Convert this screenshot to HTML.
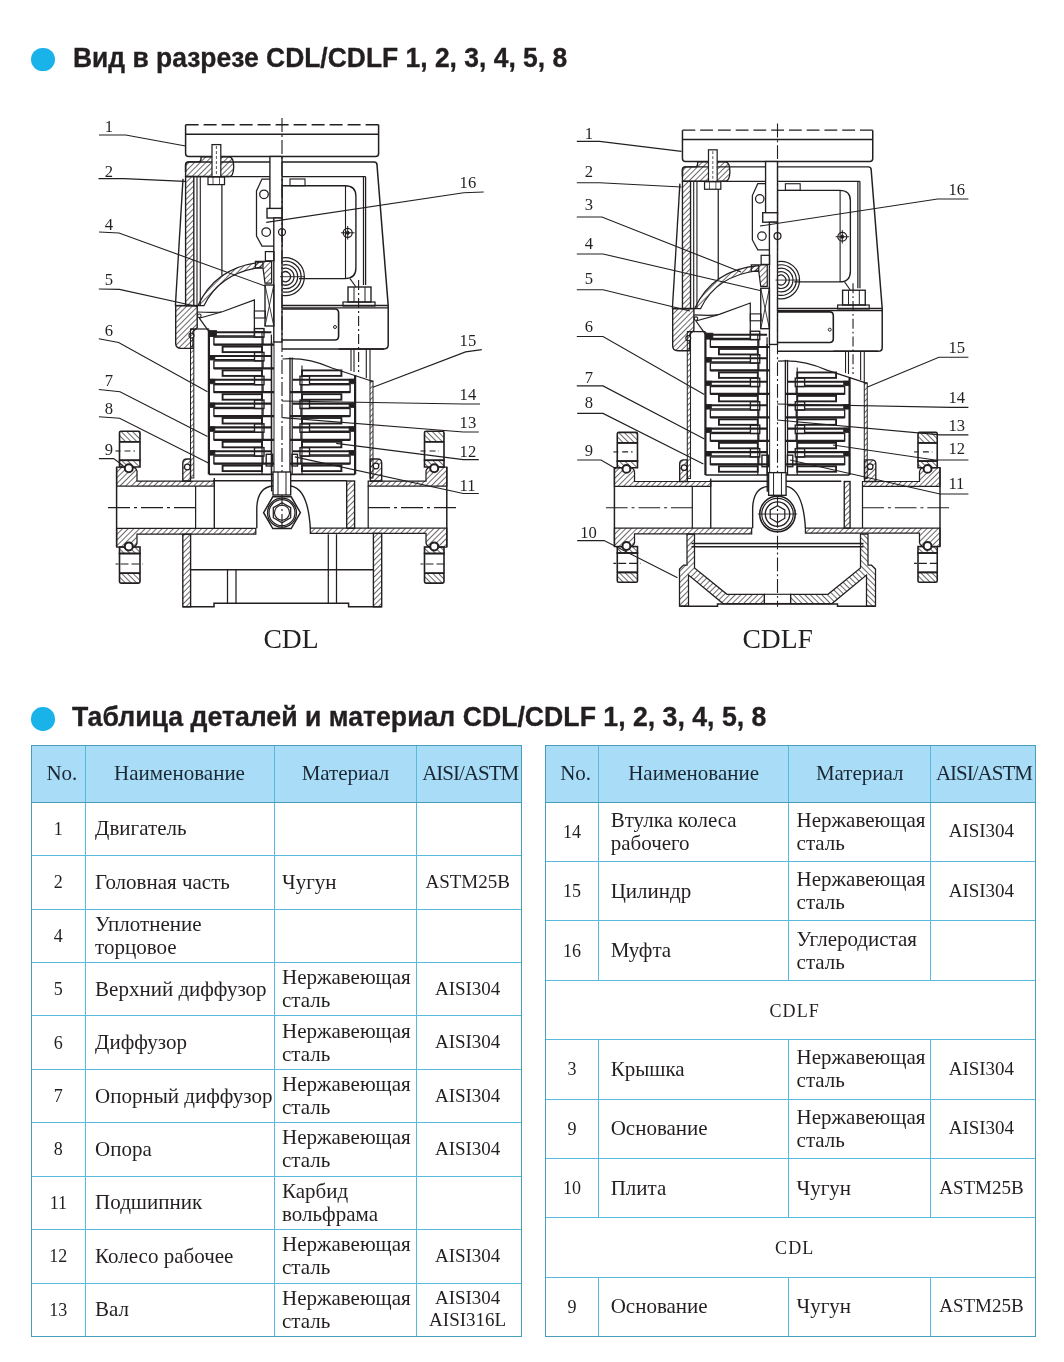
<!DOCTYPE html><html><head><meta charset="utf-8"><style>
html,body{margin:0;padding:0;background:#fff;width:1064px;height:1362px;overflow:hidden;position:relative}
.abs{position:absolute}
.t{position:absolute;display:flex;align-items:center;box-sizing:border-box;font-family:"Liberation Serif",serif;color:#231f20;white-space:nowrap}
.h{color:#1b2733}
.title{position:absolute;font-family:"Liberation Sans",sans-serif;font-weight:bold;color:#231f20;font-size:28px;white-space:nowrap;transform-origin:0 0;transform:scaleX(0.944);-webkit-text-stroke:0.35px #231f20}
.dot{position:absolute;width:23.5px;height:23.5px;border-radius:50%;background:#19b3ea}
</style></head><body>
<div id="wrap" style="position:absolute;left:0;top:0;width:1064px;height:1362px;will-change:transform">
<div class="dot" style="left:31.3px;top:47.8px"></div>
<div class="title" id="t1" style="left:73px;top:41.5px">Вид в разрезе CDL/CDLF 1, 2, 3, 4, 5, 8</div>
<div class="dot" style="left:31.3px;top:707px"></div>
<div class="title" id="t2" style="left:72px;top:700.5px;transform:scaleX(0.952)">Таблица деталей и материал CDL/CDLF 1, 2, 3, 4, 5, 8</div>
<svg class="abs" style="left:0;top:0" width="1064" height="670" viewBox="0 0 1064 670">
<defs><pattern id="hatch" patternUnits="userSpaceOnUse" width="4" height="4" patternTransform="rotate(45)"><line x1="0" y1="0" x2="0" y2="4" stroke="#231f20" stroke-width="1.35"/></pattern><pattern id="hatch2" patternUnits="userSpaceOnUse" width="4" height="4" patternTransform="rotate(-45)"><line x1="0" y1="0" x2="0" y2="4" stroke="#231f20" stroke-width="1.35"/></pattern></defs>
<g stroke="#231f20" fill="none" stroke-linecap="butt" font-family="Liberation Serif, serif">
<line x1="185.6" y1="124.7" x2="380.8" y2="124.7" stroke-width="1.38" stroke-dasharray="13 5"/>
<path d="M185.6,124.7 V153.5 Q185.6,156.5 188.6,156.5 H375.6 Q378.6,156.5 378.6,153.5 V124.7" stroke-width="1.5" fill="none"/>
<line x1="185.6" y1="134.2" x2="378.6" y2="134.2" stroke-width="1.5"/>
<path d="M185.6,171.9 V164.9 Q185.6,161.9 188.6,161.9 H374.0 Q377.0,161.9 377.0,164.9 L388.2,305.6 V345.1 Q388.2,349.0 384.0,349.0 H338.6" stroke-width="1.5" fill="none"/>
<line x1="183.0" y1="178.9" x2="175.4" y2="305.6" stroke-width="1.38"/>
<line x1="175.4" y1="305.6" x2="198.0" y2="305.6" stroke-width="1.5"/>
<line x1="282.0" y1="305.6" x2="388.2" y2="305.6" stroke-width="1.5"/>
<line x1="282.0" y1="307.8" x2="388.2" y2="307.8" stroke-width="1.25"/>
<rect x="185.6" y="176.6" width="8.2" height="129.0" stroke-width="1.38" fill="url(#hatch)"/>
<path d="M185.6,176.5 V164.9 Q185.6,161.9 188.6,161.9 H198.0 Q201.0,161.9 201.0,158.9 V156.7 H229.0 Q234.0,157.4 233.7,166.9 Q233.5,176.5 229.0,176.5 Z" stroke-width="1.38" fill="url(#hatch)"/>
<rect x="212.0" y="144.6" width="8.8" height="37.4" stroke-width="1.25" fill="#fff"/>
<line x1="216.4" y1="146.0" x2="216.4" y2="182.0" stroke-width="0.75" stroke-dasharray="3 2"/>
<rect x="208.0" y="177.0" width="16.5" height="7.6" stroke-width="1.25" fill="#fff"/>
<line x1="213.0" y1="177.0" x2="213.0" y2="184.6" stroke-width="0.75"/>
<line x1="219.5" y1="177.0" x2="219.5" y2="184.6" stroke-width="0.75"/>
<line x1="193.8" y1="176.6" x2="365.6" y2="176.6" stroke-width="1.38"/>
<line x1="363.5" y1="176.6" x2="363.5" y2="285.0" stroke-width="1.25"/>
<line x1="365.6" y1="176.6" x2="365.6" y2="285.0" stroke-width="1.25"/>
<line x1="197.0" y1="176.6" x2="197.0" y2="305.6" stroke-width="1.12"/>
<line x1="200.3" y1="176.6" x2="200.3" y2="305.6" stroke-width="1.12"/>
<line x1="221.9" y1="184.6" x2="221.9" y2="275.5" stroke-width="1.25"/>
<path d="M175.7,305.6 V343.6 Q175.7,348.4 181.0,348.4 H193.0 V331.6 L197.2,327.6 V305.6 Z" stroke-width="1.38" fill="url(#hatch)"/>
<circle cx="191.5" cy="335.6" r="2.5" stroke-width="1.12" fill="#fff"/>
<polygon points="262.0,179.0 282.0,179.0 282.0,246.0 262.0,246.0 256.5,236.0 256.5,191.0" stroke-width="1.25" fill="#fff"/>
<circle cx="264.0" cy="194.3" r="4.3" stroke-width="1.25" fill="none"/>
<circle cx="266.2" cy="232.1" r="4.3" stroke-width="1.25" fill="none"/>
<rect x="269.9" y="156.5" width="12.1" height="52.9" stroke-width="1.38" fill="#fff"/>
<rect x="267.0" y="208.4" width="15.0" height="9.6" stroke-width="1.38" fill="#fff"/>
<rect x="273.8" y="218.0" width="8.2" height="124.0" stroke-width="1.38" fill="#fff"/>
<circle cx="282.0" cy="232.1" r="3.5" stroke-width="1.25" fill="none"/>
<path d="M282.4,185.7 H345.0 Q355.9,185.7 355.9,196.0 V268.0 Q355.9,278.6 345.0,278.6 H299.0" stroke-width="1.38" fill="none"/>
<line x1="345.5" y1="185.7" x2="345.5" y2="278.6" stroke-width="1.12"/>
<rect x="290.0" y="179.0" width="15.0" height="6.7" stroke-width="1.12" fill="none"/>
<circle cx="347.7" cy="232.8" r="4.5" stroke-width="1.25" fill="none"/>
<line x1="341.0" y1="232.8" x2="354.5" y2="232.8" stroke-width="1.0"/>
<line x1="347.7" y1="226.0" x2="347.7" y2="239.6" stroke-width="1.0"/>
<circle cx="347.7" cy="232.8" r="1.6" stroke-width="1.0" fill="#231f20"/>
<line x1="350.0" y1="278.6" x2="356.0" y2="287.0" stroke-width="1.12"/>
<path d="M282.6,257.9 A19,19 0 1 1 282.6,295.5" stroke-width="1.25" fill="none"/>
<path d="M282.6,261.5 A15.5,15.5 0 1 1 282.6,291.9" stroke-width="1.25" fill="none"/>
<path d="M282.6,265.1 A12,12 0 1 1 282.6,288.3" stroke-width="1.25" fill="none"/>
<path d="M282.6,268.7 A8.5,8.5 0 1 1 282.6,284.7" stroke-width="1.25" fill="none"/>
<path d="M282.6,272.6 A5,5 0 1 1 282.6,280.8" stroke-width="1.25" fill="none"/>
<line x1="280.0" y1="276.7" x2="304.0" y2="276.7" stroke-width="0.88"/>
<rect x="348.0" y="287.0" width="23.0" height="15.0" stroke-width="1.38" fill="none"/>
<line x1="354.0" y1="287.0" x2="354.0" y2="302.0" stroke-width="1.0"/>
<line x1="365.0" y1="287.0" x2="365.0" y2="302.0" stroke-width="1.0"/>
<rect x="343.0" y="302.0" width="32.0" height="4.0" stroke-width="1.25" fill="none"/>
<line x1="282.0" y1="118.0" x2="282.0" y2="531.0" stroke-width="1.12" stroke-dasharray="14 3 2 3"/>
<line x1="358.6" y1="280.0" x2="358.6" y2="372.0" stroke-width="1.12" stroke-dasharray="10 3 2 3"/>
<path d="M282.4,309.0 H335.0 Q338.6,309.0 338.6,313.0 V336.0 Q338.6,340.0 335.0,340.0 H282.4" stroke-width="1.62" fill="none"/>
<circle cx="335.0" cy="327.0" r="1.5" stroke-width="1.0" fill="none"/>
<line x1="282.0" y1="349.0" x2="384.0" y2="349.0" stroke-width="1.5"/>
<path d="M198.0,305.6 Q216.0,266.0 263.0,262.0 L263.0,267.0 Q220.0,272.0 204.0,305.6 Z" stroke-width="1.25" fill="url(#hatch)"/>
<path d="M255.4,261.3 H271.6 V283.0 H265.0 L263.0,268.0 H255.4 Z" stroke-width="1.25" fill="url(#hatch)"/>
<rect x="265.0" y="285.0" width="8.8" height="41.0" stroke-width="1.38" fill="none"/>
<line x1="265.0" y1="285.0" x2="273.8" y2="326.0" stroke-width="0.88"/>
<line x1="273.8" y1="285.0" x2="265.0" y2="326.0" stroke-width="0.88"/>
<path d="M197.5,312.0 Q217.0,313.0 223.0,311.5 L254.4,300.0 V336.6" stroke-width="1.25" fill="none"/>
<line x1="199.2" y1="318.2" x2="221.4" y2="312.0" stroke-width="1.12"/>
<circle cx="199.3" cy="315.8" r="1.8" stroke-width="1.12" fill="none"/>
<line x1="199.3" y1="318.2" x2="209.0" y2="331.7" stroke-width="1.25"/>
<rect x="209.0" y="330.5" width="7.5" height="6.1" stroke-width="0.75" fill="#231f20"/>
<rect x="254.4" y="311.0" width="11.0" height="7.0" stroke-width="1.12" fill="none"/>
<line x1="254.4" y1="331.7" x2="265.4" y2="331.7" stroke-width="1.12"/>
<rect x="265.4" y="251.6" width="8.6" height="9.2" stroke-width="1.25" fill="none"/>
<rect x="190.5" y="329.0" width="3.3" height="149.0" stroke-width="1.0" fill="url(#hatch)"/>
<line x1="190.5" y1="329.0" x2="209.0" y2="329.0" stroke-width="1.25"/>
<rect x="370.0" y="381.0" width="3.0" height="97.0" stroke-width="1.0" fill="url(#hatch)"/>
<path d="M282.4,359.0 Q307.0,357.0 332.0,368.0 L373.0,381.5" stroke-width="1.25" fill="none"/>
<line x1="351.0" y1="349.0" x2="351.0" y2="371.0" stroke-width="1.12"/>
<line x1="354.0" y1="349.0" x2="354.0" y2="372.0" stroke-width="1.12"/>
<line x1="366.3" y1="349.0" x2="366.3" y2="378.0" stroke-width="1.12"/>
<line x1="370.0" y1="349.0" x2="370.0" y2="381.0" stroke-width="1.12"/>
<rect x="208.9" y="331.6" width="6.0" height="4.6" stroke-width="0.75" fill="#231f20"/>
<line x1="208.9" y1="332.2" x2="271.4" y2="332.2" stroke-width="2.12"/>
<line x1="214.9" y1="336.0" x2="255.0" y2="336.0" stroke-width="1.38"/>
<rect x="254.5" y="328.6" width="9.5" height="8.5" stroke-width="1.38" fill="none"/>
<rect x="213.9" y="337.1" width="49.1" height="7.5" stroke-width="1.38" fill="none"/>
<line x1="213.9" y1="344.6" x2="274.0" y2="344.6" stroke-width="2.25"/>
<rect x="222.6" y="346.6" width="39.4" height="5.5" stroke-width="1.88" fill="none"/>
<rect x="208.9" y="355.4" width="6.0" height="4.6" stroke-width="0.75" fill="#231f20"/>
<line x1="208.9" y1="356.0" x2="271.4" y2="356.0" stroke-width="2.12"/>
<line x1="214.9" y1="359.8" x2="255.0" y2="359.8" stroke-width="1.38"/>
<rect x="254.5" y="352.4" width="9.5" height="8.5" stroke-width="1.38" fill="none"/>
<rect x="213.9" y="360.9" width="49.1" height="7.5" stroke-width="1.38" fill="none"/>
<line x1="213.9" y1="368.4" x2="274.0" y2="368.4" stroke-width="2.25"/>
<rect x="222.6" y="370.4" width="39.4" height="5.5" stroke-width="1.88" fill="none"/>
<rect x="208.9" y="379.2" width="6.0" height="4.6" stroke-width="0.75" fill="#231f20"/>
<line x1="208.9" y1="379.8" x2="271.4" y2="379.8" stroke-width="2.12"/>
<line x1="214.9" y1="383.6" x2="255.0" y2="383.6" stroke-width="1.38"/>
<rect x="254.5" y="376.2" width="9.5" height="8.5" stroke-width="1.38" fill="none"/>
<rect x="213.9" y="384.7" width="49.1" height="7.5" stroke-width="1.38" fill="none"/>
<line x1="213.9" y1="392.2" x2="274.0" y2="392.2" stroke-width="2.25"/>
<rect x="222.6" y="394.2" width="39.4" height="5.5" stroke-width="1.88" fill="none"/>
<rect x="208.9" y="403.0" width="6.0" height="4.6" stroke-width="0.75" fill="#231f20"/>
<line x1="208.9" y1="403.6" x2="271.4" y2="403.6" stroke-width="2.12"/>
<line x1="214.9" y1="407.4" x2="255.0" y2="407.4" stroke-width="1.38"/>
<rect x="254.5" y="400.0" width="9.5" height="8.5" stroke-width="1.38" fill="none"/>
<rect x="213.9" y="408.5" width="49.1" height="7.5" stroke-width="1.38" fill="none"/>
<line x1="213.9" y1="416.0" x2="274.0" y2="416.0" stroke-width="2.25"/>
<rect x="222.6" y="418.0" width="39.4" height="5.5" stroke-width="1.88" fill="none"/>
<rect x="208.9" y="426.8" width="6.0" height="4.6" stroke-width="0.75" fill="#231f20"/>
<line x1="208.9" y1="427.4" x2="271.4" y2="427.4" stroke-width="2.12"/>
<line x1="214.9" y1="431.2" x2="255.0" y2="431.2" stroke-width="1.38"/>
<rect x="254.5" y="423.8" width="9.5" height="8.5" stroke-width="1.38" fill="none"/>
<rect x="213.9" y="432.3" width="49.1" height="7.5" stroke-width="1.38" fill="none"/>
<line x1="213.9" y1="439.8" x2="274.0" y2="439.8" stroke-width="2.25"/>
<rect x="222.6" y="441.8" width="39.4" height="5.5" stroke-width="1.88" fill="none"/>
<rect x="208.9" y="450.6" width="6.0" height="4.6" stroke-width="0.75" fill="#231f20"/>
<line x1="208.9" y1="451.2" x2="271.4" y2="451.2" stroke-width="2.12"/>
<line x1="214.9" y1="455.0" x2="255.0" y2="455.0" stroke-width="1.38"/>
<rect x="254.5" y="447.6" width="9.5" height="8.5" stroke-width="1.38" fill="none"/>
<rect x="213.9" y="456.1" width="49.1" height="7.5" stroke-width="1.38" fill="none"/>
<line x1="213.9" y1="463.6" x2="274.0" y2="463.6" stroke-width="2.25"/>
<rect x="222.6" y="465.6" width="39.4" height="5.5" stroke-width="1.88" fill="none"/>
<line x1="208.9" y1="329.6" x2="208.9" y2="474.4" stroke-width="2.25"/>
<line x1="262.0" y1="331.6" x2="262.0" y2="474.4" stroke-width="1.12"/>
<line x1="271.4" y1="334.6" x2="271.4" y2="474.4" stroke-width="1.25"/>
<rect x="302.0" y="370.4" width="39.4" height="5.5" stroke-width="1.88" fill="none"/>
<rect x="349.1" y="379.2" width="6.0" height="4.6" stroke-width="0.75" fill="#231f20"/>
<line x1="292.6" y1="379.8" x2="355.1" y2="379.8" stroke-width="2.12"/>
<line x1="309.0" y1="383.6" x2="349.1" y2="383.6" stroke-width="1.38"/>
<rect x="300.0" y="376.2" width="9.5" height="8.5" stroke-width="1.38" fill="none"/>
<rect x="301.0" y="384.7" width="49.1" height="7.5" stroke-width="1.38" fill="none"/>
<line x1="290.0" y1="392.2" x2="350.1" y2="392.2" stroke-width="2.25"/>
<rect x="302.0" y="394.2" width="39.4" height="5.5" stroke-width="1.88" fill="none"/>
<rect x="349.1" y="403.0" width="6.0" height="4.6" stroke-width="0.75" fill="#231f20"/>
<line x1="292.6" y1="403.6" x2="355.1" y2="403.6" stroke-width="2.12"/>
<line x1="309.0" y1="407.4" x2="349.1" y2="407.4" stroke-width="1.38"/>
<rect x="300.0" y="400.0" width="9.5" height="8.5" stroke-width="1.38" fill="none"/>
<rect x="301.0" y="408.5" width="49.1" height="7.5" stroke-width="1.38" fill="none"/>
<line x1="290.0" y1="416.0" x2="350.1" y2="416.0" stroke-width="2.25"/>
<rect x="302.0" y="418.0" width="39.4" height="5.5" stroke-width="1.88" fill="none"/>
<rect x="349.1" y="426.8" width="6.0" height="4.6" stroke-width="0.75" fill="#231f20"/>
<line x1="292.6" y1="427.4" x2="355.1" y2="427.4" stroke-width="2.12"/>
<line x1="309.0" y1="431.2" x2="349.1" y2="431.2" stroke-width="1.38"/>
<rect x="300.0" y="423.8" width="9.5" height="8.5" stroke-width="1.38" fill="none"/>
<rect x="301.0" y="432.3" width="49.1" height="7.5" stroke-width="1.38" fill="none"/>
<line x1="290.0" y1="439.8" x2="350.1" y2="439.8" stroke-width="2.25"/>
<rect x="302.0" y="441.8" width="39.4" height="5.5" stroke-width="1.88" fill="none"/>
<rect x="349.1" y="450.6" width="6.0" height="4.6" stroke-width="0.75" fill="#231f20"/>
<line x1="292.6" y1="451.2" x2="355.1" y2="451.2" stroke-width="2.12"/>
<line x1="309.0" y1="455.0" x2="349.1" y2="455.0" stroke-width="1.38"/>
<rect x="300.0" y="447.6" width="9.5" height="8.5" stroke-width="1.38" fill="none"/>
<rect x="301.0" y="456.1" width="49.1" height="7.5" stroke-width="1.38" fill="none"/>
<line x1="290.0" y1="463.6" x2="350.1" y2="463.6" stroke-width="2.25"/>
<rect x="302.0" y="465.6" width="39.4" height="5.5" stroke-width="1.88" fill="none"/>
<line x1="355.1" y1="375.2" x2="355.1" y2="474.4" stroke-width="2.25"/>
<line x1="302.0" y1="365.4" x2="302.0" y2="474.4" stroke-width="1.12"/>
<line x1="271.6" y1="341.6" x2="271.6" y2="491.4" stroke-width="1.38"/>
<line x1="290.0" y1="357.6" x2="290.0" y2="491.4" stroke-width="1.38"/>
<line x1="292.2" y1="357.6" x2="292.2" y2="474.4" stroke-width="1.25"/>
<line x1="274.0" y1="341.6" x2="274.0" y2="474.4" stroke-width="1.0"/>
<line x1="208.9" y1="474.4" x2="355.0" y2="474.4" stroke-width="1.62"/>
<line x1="213.0" y1="480.8" x2="346.7" y2="480.8" stroke-width="1.62"/>
<rect x="266.2" y="454.3" width="6.5" height="11.7" stroke-width="1.38" fill="none"/>
<rect x="292.0" y="454.3" width="5.5" height="11.7" stroke-width="1.38" fill="none"/>
<rect x="273.0" y="472.0" width="17.7" height="23.0" stroke-width="1.38" fill="#fff"/>
<line x1="278.0" y1="472.0" x2="278.0" y2="495.0" stroke-width="1.0"/>
<line x1="286.0" y1="472.0" x2="286.0" y2="495.0" stroke-width="1.0"/>
<path d="M182.8,481.0 V463.0 Q182.8,459.0 187.0,459.0 H190.5 V481.0 Z" stroke-width="1.38" fill="url(#hatch)"/>
<circle cx="187.3" cy="467.0" r="2.8" stroke-width="1.25" fill="#fff"/>
<path d="M370.3,459.0 H377.7 Q381.7,459.0 381.7,463.0 V481.0 H370.3 Z" stroke-width="1.38" fill="url(#hatch)"/>
<circle cx="376.0" cy="466.0" r="2.8" stroke-width="1.25" fill="#fff"/>
<path d="M116.6,467 H132.0 Q136.0,467.0 137.0,471.0 V481 H182.8 V481.0 H214.3 V486 H116.6 Z" stroke-width="1.25" fill="url(#hatch)"/>
<path d="M446.8,467 H431.0 Q427.0,467 426.0,471 V481 H381.7 V481.0 H368.2 V486 H446.8 Z" stroke-width="1.25" fill="url(#hatch)"/>
<path d="M116.6,528.3 H255.8 V534.2 H137.0 V543 Q136.0,547 132.0,547 H116.6 Z" stroke-width="1.25" fill="url(#hatch)"/>
<path d="M446.8,528.2 H310.3 V533.4 H426.0 V543 Q427.0,547 431.0,547 H446.8 Z" stroke-width="1.25" fill="url(#hatch)"/>
<rect x="119.5" y="441.8" width="20.5" height="18.5" stroke-width="1.62" fill="none"/>
<rect x="119.5" y="431.2" width="20.5" height="10.6" stroke-width="1.62" fill="url(#hatch2)" rx="1.5"/>
<path d="M119.5,460.3 H140.0 V467 H119.5 Z" stroke-width="1.62" fill="url(#hatch2)"/>
<rect x="119.5" y="547.0" width="20.5" height="6.5" stroke-width="1.62" fill="url(#hatch2)"/>
<rect x="119.5" y="553.5" width="20.5" height="19.7" stroke-width="1.62" fill="none"/>
<rect x="119.5" y="573.2" width="20.5" height="9.9" stroke-width="1.62" fill="url(#hatch2)" rx="1.5"/>
<circle cx="128.8" cy="468.2" r="4.0" stroke-width="2.0" fill="#fff"/>
<circle cx="128.8" cy="546.4" r="4.0" stroke-width="2.0" fill="#fff"/>
<line x1="115.5" y1="451.0" x2="120.5" y2="451.0" stroke-width="1.12"/>
<line x1="124.5" y1="451.0" x2="135.0" y2="451.0" stroke-width="1.12" stroke-dasharray="6 3"/>
<line x1="115.5" y1="564.0" x2="143.0" y2="564.0" stroke-width="1.12" stroke-dasharray="3 2 8 3 8 3"/>
<rect x="424.5" y="441.8" width="19.5" height="18.5" stroke-width="1.62" fill="none"/>
<rect x="424.5" y="431.2" width="19.5" height="10.6" stroke-width="1.62" fill="url(#hatch2)" rx="1.5"/>
<path d="M424.5,460.3 H444.0 V467 H424.5 Z" stroke-width="1.62" fill="url(#hatch2)"/>
<rect x="424.5" y="547.0" width="19.5" height="6.5" stroke-width="1.62" fill="url(#hatch2)"/>
<rect x="424.5" y="553.5" width="19.5" height="19.7" stroke-width="1.62" fill="none"/>
<rect x="424.5" y="573.2" width="19.5" height="9.9" stroke-width="1.62" fill="url(#hatch2)" rx="1.5"/>
<circle cx="434.2" cy="468.2" r="4.0" stroke-width="2.0" fill="#fff"/>
<circle cx="434.2" cy="546.4" r="4.0" stroke-width="2.0" fill="#fff"/>
<line x1="420.5" y1="451.0" x2="425.5" y2="451.0" stroke-width="1.12"/>
<line x1="429.5" y1="451.0" x2="439.0" y2="451.0" stroke-width="1.12" stroke-dasharray="6 3"/>
<line x1="420.5" y1="564.0" x2="447.0" y2="564.0" stroke-width="1.12" stroke-dasharray="3 2 8 3 8 3"/>
<line x1="116.6" y1="467.0" x2="116.6" y2="547.0" stroke-width="1.5"/>
<line x1="446.8" y1="467.0" x2="446.8" y2="547.0" stroke-width="1.5"/>
<line x1="108.0" y1="507.6" x2="196.0" y2="507.6" stroke-width="1.12" stroke-dasharray="22 4 3 4"/>
<line x1="368.0" y1="507.6" x2="458.0" y2="507.6" stroke-width="1.12" stroke-dasharray="22 4 3 4"/>
<line x1="195.6" y1="486.0" x2="195.6" y2="528.3" stroke-width="1.25"/>
<line x1="214.3" y1="478.0" x2="214.3" y2="528.3" stroke-width="1.38"/>
<rect x="346.7" y="481.0" width="7.9" height="47.3" stroke-width="1.38" fill="url(#hatch)"/>
<line x1="368.2" y1="486.0" x2="368.2" y2="528.2" stroke-width="1.25"/>
<path d="M256.8,528.3 V507 Q258.0,487 273.0,486 M291.0,486 Q308.0,489 310.3,528.2" stroke-width="1.38" fill="none"/>
<polygon points="300.4,512.7 291.2,528.6 272.8,528.6 263.6,512.7 272.8,496.8 291.2,496.8" stroke-width="1.5" fill="none"/>
<circle cx="282.0" cy="512.7" r="14.5" stroke-width="1.25" fill="none"/>
<circle cx="282.0" cy="512.7" r="13.0" stroke-width="1.25" fill="none"/>
<polygon points="290.7,517.7 282.0,522.7 273.3,517.7 273.3,507.7 282.0,502.7 290.7,507.7" stroke-width="1.25" fill="none"/>
<circle cx="282.0" cy="512.7" r="7.5" stroke-width="1.12" fill="none"/>
<rect x="182.8" y="534.2" width="7.8" height="72.6" stroke-width="1.38" fill="url(#hatch)"/>
<rect x="373.4" y="533.4" width="8.3" height="73.4" stroke-width="1.38" fill="url(#hatch)"/>
<polyline points="182.8,606.8 214.0,606.8 214.0,603.3 348.6,603.3 348.6,606.8 381.7,606.8" stroke-width="1.5" fill="none"/>
<line x1="190.6" y1="569.7" x2="373.4" y2="569.7" stroke-width="1.38"/>
<line x1="227.5" y1="569.7" x2="227.5" y2="603.3" stroke-width="1.25"/>
<line x1="236.0" y1="569.7" x2="236.0" y2="603.3" stroke-width="1.25"/>
<line x1="328.3" y1="534.2" x2="328.3" y2="603.3" stroke-width="1.25"/>
<line x1="336.5" y1="534.2" x2="336.5" y2="603.3" stroke-width="1.25"/>
<text x="104.7" y="131.6" font-size="16.6" text-anchor="start" stroke="none" fill="#231f20">1</text>
<polyline points="99.0,135.0 125.7,135.0 185.5,146.0" stroke-width="1.12" fill="none"/>
<text x="104.7" y="176.5" font-size="16.6" text-anchor="start" stroke="none" fill="#231f20">2</text>
<polyline points="98.5,178.6 124.0,178.6 185.0,181.4" stroke-width="1.12" fill="none"/>
<text x="104.7" y="229.5" font-size="16.6" text-anchor="start" stroke="none" fill="#231f20">4</text>
<polyline points="99.0,232.0 119.0,233.0 265.0,286.0" stroke-width="1.12" fill="none"/>
<text x="104.7" y="285.0" font-size="16.6" text-anchor="start" stroke="none" fill="#231f20">5</text>
<polyline points="98.8,289.0 119.4,289.4 197.2,306.5" stroke-width="1.12" fill="none"/>
<text x="104.7" y="336.0" font-size="16.6" text-anchor="start" stroke="none" fill="#231f20">6</text>
<polyline points="98.8,338.8 118.6,342.5 207.5,391.7" stroke-width="1.12" fill="none"/>
<text x="104.7" y="386.0" font-size="16.6" text-anchor="start" stroke="none" fill="#231f20">7</text>
<polyline points="98.8,389.5 120.0,391.7 207.5,436.5" stroke-width="1.12" fill="none"/>
<text x="104.7" y="413.7" font-size="16.6" text-anchor="start" stroke="none" fill="#231f20">8</text>
<polyline points="98.9,416.8 119.6,418.2 208.4,463.0" stroke-width="1.12" fill="none"/>
<text x="104.7" y="455.3" font-size="16.6" text-anchor="start" stroke="none" fill="#231f20">9</text>
<polyline points="98.9,458.6 113.7,458.6 123.5,466.0" stroke-width="1.12" fill="none"/>
<text x="459.6" y="188.3" font-size="16.6" text-anchor="start" stroke="none" fill="#231f20">16</text>
<polyline points="483.7,192.0 463.7,192.8 266.2,222.4" stroke-width="1.12" fill="none"/>
<text x="459.6" y="346.0" font-size="16.6" text-anchor="start" stroke="none" fill="#231f20">15</text>
<polyline points="481.8,349.6 465.6,351.9 373.0,387.2" stroke-width="1.12" fill="none"/>
<text x="459.6" y="399.6" font-size="16.6" text-anchor="start" stroke="none" fill="#231f20">14</text>
<polyline points="480.0,404.0 463.7,404.0 282.0,401.0" stroke-width="1.12" fill="none"/>
<text x="459.6" y="428.0" font-size="16.6" text-anchor="start" stroke="none" fill="#231f20">13</text>
<polyline points="478.8,432.0 463.3,432.0 282.4,417.6" stroke-width="1.12" fill="none"/>
<text x="459.6" y="456.9" font-size="16.6" text-anchor="start" stroke="none" fill="#231f20">12</text>
<polyline points="478.8,459.6 463.3,459.6 336.2,443.4" stroke-width="1.12" fill="none"/>
<text x="459.6" y="491.0" font-size="16.6" text-anchor="start" stroke="none" fill="#231f20">11</text>
<polyline points="478.8,493.5 463.3,493.5 294.8,456.9" stroke-width="1.12" fill="none"/>
<text x="291.0" y="647.6" font-size="27.6" text-anchor="middle" stroke="none" fill="#231f20">CDL</text>
<g transform="translate(499.45,7.24) scale(0.986)">
<line x1="185.6" y1="124.7" x2="380.8" y2="124.7" stroke-width="1.38" stroke-dasharray="13 5"/>
<path d="M185.6,124.7 V153.5 Q185.6,156.5 188.6,156.5 H375.6 Q378.6,156.5 378.6,153.5 V124.7" stroke-width="1.5" fill="none"/>
<line x1="185.6" y1="134.2" x2="378.6" y2="134.2" stroke-width="1.5"/>
<path d="M185.6,171.9 V164.9 Q185.6,161.9 188.6,161.9 H374.0 Q377.0,161.9 377.0,164.9 L388.2,305.6 V345.1 Q388.2,349.0 384.0,349.0 H338.6" stroke-width="1.5" fill="none"/>
<line x1="183.0" y1="178.9" x2="175.4" y2="305.6" stroke-width="1.38"/>
<line x1="175.4" y1="305.6" x2="198.0" y2="305.6" stroke-width="1.5"/>
<line x1="282.0" y1="305.6" x2="388.2" y2="305.6" stroke-width="1.5"/>
<line x1="282.0" y1="307.8" x2="388.2" y2="307.8" stroke-width="1.25"/>
<rect x="185.6" y="176.6" width="8.2" height="129.0" stroke-width="1.38" fill="url(#hatch)"/>
<path d="M185.6,176.5 V164.9 Q185.6,161.9 188.6,161.9 H198.0 Q201.0,161.9 201.0,158.9 V156.7 H229.0 Q234.0,157.4 233.7,166.9 Q233.5,176.5 229.0,176.5 Z" stroke-width="1.38" fill="url(#hatch)"/>
<rect x="212.0" y="144.6" width="8.8" height="37.4" stroke-width="1.25" fill="#fff"/>
<line x1="216.4" y1="146.0" x2="216.4" y2="182.0" stroke-width="0.75" stroke-dasharray="3 2"/>
<rect x="208.0" y="177.0" width="16.5" height="7.6" stroke-width="1.25" fill="#fff"/>
<line x1="213.0" y1="177.0" x2="213.0" y2="184.6" stroke-width="0.75"/>
<line x1="219.5" y1="177.0" x2="219.5" y2="184.6" stroke-width="0.75"/>
<line x1="193.8" y1="176.6" x2="365.6" y2="176.6" stroke-width="1.38"/>
<line x1="363.5" y1="176.6" x2="363.5" y2="285.0" stroke-width="1.25"/>
<line x1="365.6" y1="176.6" x2="365.6" y2="285.0" stroke-width="1.25"/>
<line x1="197.0" y1="176.6" x2="197.0" y2="305.6" stroke-width="1.12"/>
<line x1="200.3" y1="176.6" x2="200.3" y2="305.6" stroke-width="1.12"/>
<line x1="221.9" y1="184.6" x2="221.9" y2="275.5" stroke-width="1.25"/>
<path d="M175.7,305.6 V343.6 Q175.7,348.4 181.0,348.4 H193.0 V331.6 L197.2,327.6 V305.6 Z" stroke-width="1.38" fill="url(#hatch)"/>
<circle cx="191.5" cy="335.6" r="2.5" stroke-width="1.12" fill="#fff"/>
<polygon points="262.0,179.0 282.0,179.0 282.0,246.0 262.0,246.0 256.5,236.0 256.5,191.0" stroke-width="1.25" fill="#fff"/>
<circle cx="264.0" cy="194.3" r="4.3" stroke-width="1.25" fill="none"/>
<circle cx="266.2" cy="232.1" r="4.3" stroke-width="1.25" fill="none"/>
<rect x="269.9" y="156.5" width="12.1" height="52.9" stroke-width="1.38" fill="#fff"/>
<rect x="267.0" y="208.4" width="15.0" height="9.6" stroke-width="1.38" fill="#fff"/>
<rect x="273.8" y="218.0" width="8.2" height="124.0" stroke-width="1.38" fill="#fff"/>
<circle cx="282.0" cy="232.1" r="3.5" stroke-width="1.25" fill="none"/>
<path d="M282.4,185.7 H345.0 Q355.9,185.7 355.9,196.0 V268.0 Q355.9,278.6 345.0,278.6 H299.0" stroke-width="1.38" fill="none"/>
<line x1="345.5" y1="185.7" x2="345.5" y2="278.6" stroke-width="1.12"/>
<rect x="290.0" y="179.0" width="15.0" height="6.7" stroke-width="1.12" fill="none"/>
<circle cx="347.7" cy="232.8" r="4.5" stroke-width="1.25" fill="none"/>
<line x1="341.0" y1="232.8" x2="354.5" y2="232.8" stroke-width="1.0"/>
<line x1="347.7" y1="226.0" x2="347.7" y2="239.6" stroke-width="1.0"/>
<circle cx="347.7" cy="232.8" r="1.6" stroke-width="1.0" fill="#231f20"/>
<line x1="350.0" y1="278.6" x2="356.0" y2="287.0" stroke-width="1.12"/>
<path d="M282.6,257.9 A19,19 0 1 1 282.6,295.5" stroke-width="1.25" fill="none"/>
<path d="M282.6,261.5 A15.5,15.5 0 1 1 282.6,291.9" stroke-width="1.25" fill="none"/>
<path d="M282.6,265.1 A12,12 0 1 1 282.6,288.3" stroke-width="1.25" fill="none"/>
<path d="M282.6,268.7 A8.5,8.5 0 1 1 282.6,284.7" stroke-width="1.25" fill="none"/>
<path d="M282.6,272.6 A5,5 0 1 1 282.6,280.8" stroke-width="1.25" fill="none"/>
<line x1="280.0" y1="276.7" x2="304.0" y2="276.7" stroke-width="0.88"/>
<rect x="348.0" y="287.0" width="23.0" height="15.0" stroke-width="1.38" fill="none"/>
<line x1="354.0" y1="287.0" x2="354.0" y2="302.0" stroke-width="1.0"/>
<line x1="365.0" y1="287.0" x2="365.0" y2="302.0" stroke-width="1.0"/>
<rect x="343.0" y="302.0" width="32.0" height="4.0" stroke-width="1.25" fill="none"/>
<line x1="282.0" y1="118.0" x2="282.0" y2="608.0" stroke-width="1.12" stroke-dasharray="14 3 2 3"/>
<line x1="358.6" y1="280.0" x2="358.6" y2="372.0" stroke-width="1.12" stroke-dasharray="10 3 2 3"/>
<path d="M282.4,309.0 H335.0 Q338.6,309.0 338.6,313.0 V336.0 Q338.6,340.0 335.0,340.0 H282.4" stroke-width="1.62" fill="none"/>
<circle cx="335.0" cy="327.0" r="1.5" stroke-width="1.0" fill="none"/>
<line x1="282.0" y1="349.0" x2="384.0" y2="349.0" stroke-width="1.5"/>
<path d="M198.0,305.6 Q216.0,266.0 263.0,262.0 L263.0,267.0 Q220.0,272.0 204.0,305.6 Z" stroke-width="1.25" fill="url(#hatch)"/>
<path d="M255.4,261.3 H271.6 V283.0 H265.0 L263.0,268.0 H255.4 Z" stroke-width="1.25" fill="url(#hatch)"/>
<rect x="265.0" y="285.0" width="8.8" height="41.0" stroke-width="1.38" fill="none"/>
<line x1="265.0" y1="285.0" x2="273.8" y2="326.0" stroke-width="0.88"/>
<line x1="273.8" y1="285.0" x2="265.0" y2="326.0" stroke-width="0.88"/>
<path d="M197.5,312.0 Q217.0,313.0 223.0,311.5 L254.4,300.0 V336.6" stroke-width="1.25" fill="none"/>
<line x1="199.2" y1="318.2" x2="221.4" y2="312.0" stroke-width="1.12"/>
<circle cx="199.3" cy="315.8" r="1.8" stroke-width="1.12" fill="none"/>
<line x1="199.3" y1="318.2" x2="209.0" y2="331.7" stroke-width="1.25"/>
<rect x="209.0" y="330.5" width="7.5" height="6.1" stroke-width="0.75" fill="#231f20"/>
<rect x="254.4" y="311.0" width="11.0" height="7.0" stroke-width="1.12" fill="none"/>
<line x1="254.4" y1="331.7" x2="265.4" y2="331.7" stroke-width="1.12"/>
<rect x="265.4" y="251.6" width="8.6" height="9.2" stroke-width="1.25" fill="none"/>
<rect x="190.5" y="329.0" width="3.3" height="149.0" stroke-width="1.0" fill="url(#hatch)"/>
<line x1="190.5" y1="329.0" x2="209.0" y2="329.0" stroke-width="1.25"/>
<rect x="370.0" y="381.0" width="3.0" height="97.0" stroke-width="1.0" fill="url(#hatch)"/>
<path d="M282.4,359.0 Q307.0,357.0 332.0,368.0 L373.0,381.5" stroke-width="1.25" fill="none"/>
<line x1="351.0" y1="349.0" x2="351.0" y2="371.0" stroke-width="1.12"/>
<line x1="354.0" y1="349.0" x2="354.0" y2="372.0" stroke-width="1.12"/>
<line x1="366.3" y1="349.0" x2="366.3" y2="378.0" stroke-width="1.12"/>
<line x1="370.0" y1="349.0" x2="370.0" y2="381.0" stroke-width="1.12"/>
<rect x="208.9" y="331.6" width="6.0" height="4.6" stroke-width="0.75" fill="#231f20"/>
<line x1="208.9" y1="332.2" x2="271.4" y2="332.2" stroke-width="2.12"/>
<line x1="214.9" y1="336.0" x2="255.0" y2="336.0" stroke-width="1.38"/>
<rect x="254.5" y="328.6" width="9.5" height="8.5" stroke-width="1.38" fill="none"/>
<rect x="213.9" y="337.1" width="49.1" height="7.5" stroke-width="1.38" fill="none"/>
<line x1="213.9" y1="344.6" x2="274.0" y2="344.6" stroke-width="2.25"/>
<rect x="222.6" y="346.6" width="39.4" height="5.5" stroke-width="1.88" fill="none"/>
<rect x="208.9" y="355.4" width="6.0" height="4.6" stroke-width="0.75" fill="#231f20"/>
<line x1="208.9" y1="356.0" x2="271.4" y2="356.0" stroke-width="2.12"/>
<line x1="214.9" y1="359.8" x2="255.0" y2="359.8" stroke-width="1.38"/>
<rect x="254.5" y="352.4" width="9.5" height="8.5" stroke-width="1.38" fill="none"/>
<rect x="213.9" y="360.9" width="49.1" height="7.5" stroke-width="1.38" fill="none"/>
<line x1="213.9" y1="368.4" x2="274.0" y2="368.4" stroke-width="2.25"/>
<rect x="222.6" y="370.4" width="39.4" height="5.5" stroke-width="1.88" fill="none"/>
<rect x="208.9" y="379.2" width="6.0" height="4.6" stroke-width="0.75" fill="#231f20"/>
<line x1="208.9" y1="379.8" x2="271.4" y2="379.8" stroke-width="2.12"/>
<line x1="214.9" y1="383.6" x2="255.0" y2="383.6" stroke-width="1.38"/>
<rect x="254.5" y="376.2" width="9.5" height="8.5" stroke-width="1.38" fill="none"/>
<rect x="213.9" y="384.7" width="49.1" height="7.5" stroke-width="1.38" fill="none"/>
<line x1="213.9" y1="392.2" x2="274.0" y2="392.2" stroke-width="2.25"/>
<rect x="222.6" y="394.2" width="39.4" height="5.5" stroke-width="1.88" fill="none"/>
<rect x="208.9" y="403.0" width="6.0" height="4.6" stroke-width="0.75" fill="#231f20"/>
<line x1="208.9" y1="403.6" x2="271.4" y2="403.6" stroke-width="2.12"/>
<line x1="214.9" y1="407.4" x2="255.0" y2="407.4" stroke-width="1.38"/>
<rect x="254.5" y="400.0" width="9.5" height="8.5" stroke-width="1.38" fill="none"/>
<rect x="213.9" y="408.5" width="49.1" height="7.5" stroke-width="1.38" fill="none"/>
<line x1="213.9" y1="416.0" x2="274.0" y2="416.0" stroke-width="2.25"/>
<rect x="222.6" y="418.0" width="39.4" height="5.5" stroke-width="1.88" fill="none"/>
<rect x="208.9" y="426.8" width="6.0" height="4.6" stroke-width="0.75" fill="#231f20"/>
<line x1="208.9" y1="427.4" x2="271.4" y2="427.4" stroke-width="2.12"/>
<line x1="214.9" y1="431.2" x2="255.0" y2="431.2" stroke-width="1.38"/>
<rect x="254.5" y="423.8" width="9.5" height="8.5" stroke-width="1.38" fill="none"/>
<rect x="213.9" y="432.3" width="49.1" height="7.5" stroke-width="1.38" fill="none"/>
<line x1="213.9" y1="439.8" x2="274.0" y2="439.8" stroke-width="2.25"/>
<rect x="222.6" y="441.8" width="39.4" height="5.5" stroke-width="1.88" fill="none"/>
<rect x="208.9" y="450.6" width="6.0" height="4.6" stroke-width="0.75" fill="#231f20"/>
<line x1="208.9" y1="451.2" x2="271.4" y2="451.2" stroke-width="2.12"/>
<line x1="214.9" y1="455.0" x2="255.0" y2="455.0" stroke-width="1.38"/>
<rect x="254.5" y="447.6" width="9.5" height="8.5" stroke-width="1.38" fill="none"/>
<rect x="213.9" y="456.1" width="49.1" height="7.5" stroke-width="1.38" fill="none"/>
<line x1="213.9" y1="463.6" x2="274.0" y2="463.6" stroke-width="2.25"/>
<rect x="222.6" y="465.6" width="39.4" height="5.5" stroke-width="1.88" fill="none"/>
<line x1="208.9" y1="329.6" x2="208.9" y2="474.4" stroke-width="2.25"/>
<line x1="262.0" y1="331.6" x2="262.0" y2="474.4" stroke-width="1.12"/>
<line x1="271.4" y1="334.6" x2="271.4" y2="474.4" stroke-width="1.25"/>
<rect x="302.0" y="370.4" width="39.4" height="5.5" stroke-width="1.88" fill="none"/>
<rect x="349.1" y="379.2" width="6.0" height="4.6" stroke-width="0.75" fill="#231f20"/>
<line x1="292.6" y1="379.8" x2="355.1" y2="379.8" stroke-width="2.12"/>
<line x1="309.0" y1="383.6" x2="349.1" y2="383.6" stroke-width="1.38"/>
<rect x="300.0" y="376.2" width="9.5" height="8.5" stroke-width="1.38" fill="none"/>
<rect x="301.0" y="384.7" width="49.1" height="7.5" stroke-width="1.38" fill="none"/>
<line x1="290.0" y1="392.2" x2="350.1" y2="392.2" stroke-width="2.25"/>
<rect x="302.0" y="394.2" width="39.4" height="5.5" stroke-width="1.88" fill="none"/>
<rect x="349.1" y="403.0" width="6.0" height="4.6" stroke-width="0.75" fill="#231f20"/>
<line x1="292.6" y1="403.6" x2="355.1" y2="403.6" stroke-width="2.12"/>
<line x1="309.0" y1="407.4" x2="349.1" y2="407.4" stroke-width="1.38"/>
<rect x="300.0" y="400.0" width="9.5" height="8.5" stroke-width="1.38" fill="none"/>
<rect x="301.0" y="408.5" width="49.1" height="7.5" stroke-width="1.38" fill="none"/>
<line x1="290.0" y1="416.0" x2="350.1" y2="416.0" stroke-width="2.25"/>
<rect x="302.0" y="418.0" width="39.4" height="5.5" stroke-width="1.88" fill="none"/>
<rect x="349.1" y="426.8" width="6.0" height="4.6" stroke-width="0.75" fill="#231f20"/>
<line x1="292.6" y1="427.4" x2="355.1" y2="427.4" stroke-width="2.12"/>
<line x1="309.0" y1="431.2" x2="349.1" y2="431.2" stroke-width="1.38"/>
<rect x="300.0" y="423.8" width="9.5" height="8.5" stroke-width="1.38" fill="none"/>
<rect x="301.0" y="432.3" width="49.1" height="7.5" stroke-width="1.38" fill="none"/>
<line x1="290.0" y1="439.8" x2="350.1" y2="439.8" stroke-width="2.25"/>
<rect x="302.0" y="441.8" width="39.4" height="5.5" stroke-width="1.88" fill="none"/>
<rect x="349.1" y="450.6" width="6.0" height="4.6" stroke-width="0.75" fill="#231f20"/>
<line x1="292.6" y1="451.2" x2="355.1" y2="451.2" stroke-width="2.12"/>
<line x1="309.0" y1="455.0" x2="349.1" y2="455.0" stroke-width="1.38"/>
<rect x="300.0" y="447.6" width="9.5" height="8.5" stroke-width="1.38" fill="none"/>
<rect x="301.0" y="456.1" width="49.1" height="7.5" stroke-width="1.38" fill="none"/>
<line x1="290.0" y1="463.6" x2="350.1" y2="463.6" stroke-width="2.25"/>
<rect x="302.0" y="465.6" width="39.4" height="5.5" stroke-width="1.88" fill="none"/>
<line x1="355.1" y1="375.2" x2="355.1" y2="474.4" stroke-width="2.25"/>
<line x1="302.0" y1="365.4" x2="302.0" y2="474.4" stroke-width="1.12"/>
<line x1="271.6" y1="341.6" x2="271.6" y2="491.4" stroke-width="1.38"/>
<line x1="290.0" y1="357.6" x2="290.0" y2="491.4" stroke-width="1.38"/>
<line x1="292.2" y1="357.6" x2="292.2" y2="474.4" stroke-width="1.25"/>
<line x1="274.0" y1="341.6" x2="274.0" y2="474.4" stroke-width="1.0"/>
<line x1="208.9" y1="474.4" x2="355.0" y2="474.4" stroke-width="1.62"/>
<line x1="213.0" y1="480.8" x2="346.7" y2="480.8" stroke-width="1.62"/>
<rect x="266.2" y="454.3" width="6.5" height="11.7" stroke-width="1.38" fill="none"/>
<rect x="292.0" y="454.3" width="5.5" height="11.7" stroke-width="1.38" fill="none"/>
<rect x="273.0" y="472.0" width="17.7" height="23.0" stroke-width="1.38" fill="#fff"/>
<line x1="278.0" y1="472.0" x2="278.0" y2="495.0" stroke-width="1.0"/>
<line x1="286.0" y1="472.0" x2="286.0" y2="495.0" stroke-width="1.0"/>
<path d="M182.8,481.0 V463.0 Q182.8,459.0 187.0,459.0 H190.5 V481.0 Z" stroke-width="1.38" fill="url(#hatch)"/>
<circle cx="187.3" cy="467.0" r="2.8" stroke-width="1.25" fill="#fff"/>
<path d="M370.3,459.0 H377.7 Q381.7,459.0 381.7,463.0 V481.0 H370.3 Z" stroke-width="1.38" fill="url(#hatch)"/>
<circle cx="376.0" cy="466.0" r="2.8" stroke-width="1.25" fill="#fff"/>
<path d="M116.6,467 H132.0 Q136.0,467.0 137.0,471.0 V481 H182.8 V481.0 H214.3 V486 H116.6 Z" stroke-width="1.25" fill="url(#hatch)"/>
<path d="M446.8,467 H431.0 Q427.0,467 426.0,471 V481 H381.7 V481.0 H368.2 V486 H446.8 Z" stroke-width="1.25" fill="url(#hatch)"/>
<path d="M116.6,528.3 H255.8 V534.2 H137.0 V543 Q136.0,547 132.0,547 H116.6 Z" stroke-width="1.25" fill="url(#hatch)"/>
<path d="M446.8,528.2 H310.3 V533.4 H426.0 V543 Q427.0,547 431.0,547 H446.8 Z" stroke-width="1.25" fill="url(#hatch)"/>
<rect x="119.5" y="441.8" width="20.5" height="18.5" stroke-width="1.62" fill="none"/>
<rect x="119.5" y="431.2" width="20.5" height="10.6" stroke-width="1.62" fill="url(#hatch2)" rx="1.5"/>
<path d="M119.5,460.3 H140.0 V467 H119.5 Z" stroke-width="1.62" fill="url(#hatch2)"/>
<rect x="119.5" y="547.0" width="20.5" height="6.5" stroke-width="1.62" fill="url(#hatch2)"/>
<rect x="119.5" y="553.5" width="20.5" height="19.7" stroke-width="1.62" fill="none"/>
<rect x="119.5" y="573.2" width="20.5" height="9.9" stroke-width="1.62" fill="url(#hatch2)" rx="1.5"/>
<circle cx="128.8" cy="468.2" r="4.0" stroke-width="2.0" fill="#fff"/>
<circle cx="128.8" cy="546.4" r="4.0" stroke-width="2.0" fill="#fff"/>
<line x1="115.5" y1="451.0" x2="120.5" y2="451.0" stroke-width="1.12"/>
<line x1="124.5" y1="451.0" x2="135.0" y2="451.0" stroke-width="1.12" stroke-dasharray="6 3"/>
<line x1="115.5" y1="564.0" x2="143.0" y2="564.0" stroke-width="1.12" stroke-dasharray="3 2 8 3 8 3"/>
<rect x="424.5" y="441.8" width="19.5" height="18.5" stroke-width="1.62" fill="none"/>
<rect x="424.5" y="431.2" width="19.5" height="10.6" stroke-width="1.62" fill="url(#hatch2)" rx="1.5"/>
<path d="M424.5,460.3 H444.0 V467 H424.5 Z" stroke-width="1.62" fill="url(#hatch2)"/>
<rect x="424.5" y="547.0" width="19.5" height="6.5" stroke-width="1.62" fill="url(#hatch2)"/>
<rect x="424.5" y="553.5" width="19.5" height="19.7" stroke-width="1.62" fill="none"/>
<rect x="424.5" y="573.2" width="19.5" height="9.9" stroke-width="1.62" fill="url(#hatch2)" rx="1.5"/>
<circle cx="434.2" cy="468.2" r="4.0" stroke-width="2.0" fill="#fff"/>
<circle cx="434.2" cy="546.4" r="4.0" stroke-width="2.0" fill="#fff"/>
<line x1="420.5" y1="451.0" x2="425.5" y2="451.0" stroke-width="1.12"/>
<line x1="429.5" y1="451.0" x2="439.0" y2="451.0" stroke-width="1.12" stroke-dasharray="6 3"/>
<line x1="420.5" y1="564.0" x2="447.0" y2="564.0" stroke-width="1.12" stroke-dasharray="3 2 8 3 8 3"/>
<line x1="116.6" y1="467.0" x2="116.6" y2="547.0" stroke-width="1.5"/>
<line x1="446.8" y1="467.0" x2="446.8" y2="547.0" stroke-width="1.5"/>
<line x1="108.0" y1="507.6" x2="196.0" y2="507.6" stroke-width="1.12" stroke-dasharray="22 4 3 4"/>
<line x1="368.0" y1="507.6" x2="458.0" y2="507.6" stroke-width="1.12" stroke-dasharray="22 4 3 4"/>
<line x1="195.6" y1="486.0" x2="195.6" y2="528.3" stroke-width="1.25"/>
<line x1="214.3" y1="478.0" x2="214.3" y2="528.3" stroke-width="1.38"/>
<rect x="349.7" y="481.0" width="5.9" height="47.3" stroke-width="1.38" fill="url(#hatch)"/>
<line x1="368.2" y1="486.0" x2="368.2" y2="528.2" stroke-width="1.25"/>
<path d="M256.8,528.3 V507 Q258.0,487 273.0,486 M291.0,486 Q308.0,489 310.3,528.2" stroke-width="1.38" fill="none"/>
<circle cx="282.0" cy="514.0" r="18.0" stroke-width="1.62" fill="none"/>
<circle cx="282.0" cy="514.0" r="16.0" stroke-width="1.25" fill="none"/>
<circle cx="282.0" cy="514.0" r="12.4" stroke-width="1.38" fill="none"/>
<polygon points="289.4,518.2 282.0,522.5 274.6,518.2 274.6,509.8 282.0,505.5 289.4,509.8" stroke-width="1.25" fill="none"/>
<line x1="262.0" y1="514.0" x2="302.0" y2="514.0" stroke-width="0.88"/>
</g>
<line x1="691.5" y1="543.5" x2="863.5" y2="543.5" stroke-width="1.38"/>
<line x1="691.5" y1="546.7" x2="863.5" y2="546.7" stroke-width="1.38"/>
<polygon points="687.0,534.2 694.5,534.2 694.5,568.0 727.0,594.3 764.4,594.3 764.4,603.5 723.0,603.5 688.5,575.0 688.5,606.2 679.5,606.2 679.5,569.0 683.5,565.0 687.0,565.0" stroke-width="1.25" fill="url(#hatch)"/>
<polygon points="868.0,534.2 860.5,534.2 860.5,568.0 828.0,594.3 790.6,594.3 790.6,603.5 832.0,603.5 866.5,575.0 866.5,606.2 875.5,606.2 875.5,569.0 871.5,565.0 868.0,565.0" stroke-width="1.25" fill="url(#hatch2)"/>
<polyline points="679.5,606.2 717.5,606.2 717.5,604.0 837.5,604.0 837.5,606.2 875.5,606.2" stroke-width="1.5" fill="none"/>
<rect x="764.4" y="594.3" width="26.2" height="9.2" stroke-width="1.12" fill="none"/>
<text x="584.8" y="138.5" font-size="16.6" text-anchor="start" stroke="none" fill="#231f20">1</text>
<polyline points="576.8,141.4 599.6,141.4 681.5,151.4" stroke-width="1.12" fill="none"/>
<text x="584.8" y="177.2" font-size="16.6" text-anchor="start" stroke="none" fill="#231f20">2</text>
<polyline points="576.8,182.8 599.6,182.8 681.5,187.0" stroke-width="1.12" fill="none"/>
<text x="584.8" y="210.2" font-size="16.6" text-anchor="start" stroke="none" fill="#231f20">3</text>
<polyline points="576.8,217.0 601.9,217.0 741.0,272.0" stroke-width="1.12" fill="none"/>
<text x="584.8" y="248.9" font-size="16.6" text-anchor="start" stroke="none" fill="#231f20">4</text>
<polyline points="576.8,254.0 603.0,254.0 760.0,290.5" stroke-width="1.12" fill="none"/>
<text x="584.8" y="284.1" font-size="16.6" text-anchor="start" stroke="none" fill="#231f20">5</text>
<polyline points="576.8,289.8 603.0,289.8 690.0,311.0" stroke-width="1.12" fill="none"/>
<text x="584.8" y="332.0" font-size="16.6" text-anchor="start" stroke="none" fill="#231f20">6</text>
<polyline points="576.8,336.5 603.0,336.5 704.3,394.5" stroke-width="1.12" fill="none"/>
<text x="584.8" y="383.2" font-size="16.6" text-anchor="start" stroke="none" fill="#231f20">7</text>
<polyline points="576.8,385.9 603.0,385.9 704.5,439.0" stroke-width="1.12" fill="none"/>
<text x="584.8" y="408.2" font-size="16.6" text-anchor="start" stroke="none" fill="#231f20">8</text>
<polyline points="577.2,413.4 603.0,413.4 703.4,464.0" stroke-width="1.12" fill="none"/>
<text x="584.8" y="455.8" font-size="16.6" text-anchor="start" stroke="none" fill="#231f20">9</text>
<polyline points="577.2,460.0 601.0,460.0 616.5,469.0" stroke-width="1.12" fill="none"/>
<text x="580.3" y="537.5" font-size="16.6" text-anchor="start" stroke="none" fill="#231f20">10</text>
<polyline points="577.2,540.6 604.1,540.6 677.5,577.8" stroke-width="1.12" fill="none"/>
<text x="948.4" y="194.7" font-size="16.6" text-anchor="start" stroke="none" fill="#231f20">16</text>
<polyline points="968.4,199.0 937.6,199.0 760.0,226.0" stroke-width="1.12" fill="none"/>
<text x="948.4" y="352.7" font-size="16.6" text-anchor="start" stroke="none" fill="#231f20">15</text>
<polyline points="968.4,357.3 938.9,357.3 867.0,387.3" stroke-width="1.12" fill="none"/>
<text x="948.4" y="402.7" font-size="16.6" text-anchor="start" stroke="none" fill="#231f20">14</text>
<polyline points="968.4,407.4 950.5,407.4 777.0,404.0" stroke-width="1.12" fill="none"/>
<text x="948.4" y="431.0" font-size="16.6" text-anchor="start" stroke="none" fill="#231f20">13</text>
<polyline points="968.4,434.9 940.0,434.9 777.0,420.0" stroke-width="1.12" fill="none"/>
<text x="948.4" y="454.1" font-size="16.6" text-anchor="start" stroke="none" fill="#231f20">12</text>
<polyline points="968.4,460.0 935.0,460.0 833.0,445.0" stroke-width="1.12" fill="none"/>
<text x="948.4" y="488.8" font-size="16.6" text-anchor="start" stroke="none" fill="#231f20">11</text>
<polyline points="968.4,494.0 940.0,494.0 790.0,460.0" stroke-width="1.12" fill="none"/>
<text x="777.7" y="647.6" font-size="27.6" text-anchor="middle" stroke="none" fill="#231f20">CDLF</text>
</g></svg>
<div class="abs" style="left:31.6px;top:745.8px;width:489.69999999999993px;height:56.40000000000009px;background:#a9ddf7"></div>
<div class="t h" style="left:35.1px;top:745.0px;width:53.5px;height:56.4px;justify-content:center;text-align:center;font-size:21px;line-height:22px"><span>No.</span></div>
<div class="t h" style="left:85.1px;top:745.0px;width:188.9px;height:56.4px;justify-content:center;text-align:center;font-size:21px;line-height:22px"><span>Наименование</span></div>
<div class="t h" style="left:274.0px;top:745.0px;width:143.0px;height:56.4px;justify-content:center;text-align:center;font-size:21px;line-height:22px"><span>Материал</span></div>
<div class="t h" style="left:418.0px;top:745.0px;width:104.3px;height:56.4px;justify-content:center;text-align:center;font-size:21px;line-height:22px"><span><span style="letter-spacing:-1px">AISI/ASTM</span></span></div>
<div class="t n" style="left:31.6px;top:802.2px;width:53.5px;height:53.4px;justify-content:center;text-align:center;font-size:18px;line-height:22px"><span>1</span></div>
<div class="t" style="left:85.1px;top:802.2px;width:188.9px;height:53.4px;padding-left:10px;justify-content:flex-start;text-align:left;font-size:21px;line-height:23px"><span>Двигатель</span></div>
<div class="t n" style="left:31.6px;top:855.6px;width:53.5px;height:53.4px;justify-content:center;text-align:center;font-size:18px;line-height:22px"><span>2</span></div>
<div class="t" style="left:85.1px;top:855.6px;width:188.9px;height:53.4px;padding-left:10px;justify-content:flex-start;text-align:left;font-size:21px;line-height:23px"><span>Головная часть</span></div>
<div class="t" style="left:274.0px;top:855.6px;width:143.0px;height:53.4px;padding-left:8px;justify-content:flex-start;text-align:left;font-size:21px;line-height:23px"><span>Чугун</span></div>
<div class="t n" style="left:415.5px;top:855.1px;width:104.3px;height:53.4px;justify-content:center;text-align:center;font-size:19px;line-height:22px"><span>ASTM25B</span></div>
<div class="t n" style="left:31.6px;top:909.1px;width:53.5px;height:53.4px;justify-content:center;text-align:center;font-size:18px;line-height:22px"><span>4</span></div>
<div class="t" style="left:85.1px;top:909.1px;width:188.9px;height:53.4px;padding-left:10px;justify-content:flex-start;text-align:left;font-size:21px;line-height:23px"><span>Уплотнение<br>торцовое</span></div>
<div class="t n" style="left:31.6px;top:962.5px;width:53.5px;height:53.4px;justify-content:center;text-align:center;font-size:18px;line-height:22px"><span>5</span></div>
<div class="t" style="left:85.1px;top:962.5px;width:188.9px;height:53.4px;padding-left:10px;justify-content:flex-start;text-align:left;font-size:21px;line-height:23px"><span>Верхний диффузор</span></div>
<div class="t" style="left:274.0px;top:962.5px;width:143.0px;height:53.4px;padding-left:8px;justify-content:flex-start;text-align:left;font-size:21px;line-height:23px"><span>Нержавеющая<br>сталь</span></div>
<div class="t n" style="left:415.5px;top:962.0px;width:104.3px;height:53.4px;justify-content:center;text-align:center;font-size:19px;line-height:22px"><span>AISI304</span></div>
<div class="t n" style="left:31.6px;top:1016.0px;width:53.5px;height:53.4px;justify-content:center;text-align:center;font-size:18px;line-height:22px"><span>6</span></div>
<div class="t" style="left:85.1px;top:1016.0px;width:188.9px;height:53.4px;padding-left:10px;justify-content:flex-start;text-align:left;font-size:21px;line-height:23px"><span>Диффузор</span></div>
<div class="t" style="left:274.0px;top:1016.0px;width:143.0px;height:53.4px;padding-left:8px;justify-content:flex-start;text-align:left;font-size:21px;line-height:23px"><span>Нержавеющая<br>сталь</span></div>
<div class="t n" style="left:415.5px;top:1015.5px;width:104.3px;height:53.4px;justify-content:center;text-align:center;font-size:19px;line-height:22px"><span>AISI304</span></div>
<div class="t n" style="left:31.6px;top:1069.4px;width:53.5px;height:53.4px;justify-content:center;text-align:center;font-size:18px;line-height:22px"><span>7</span></div>
<div class="t" style="left:85.1px;top:1069.4px;width:188.9px;height:53.4px;padding-left:10px;justify-content:flex-start;text-align:left;font-size:21px;line-height:23px"><span>Опорный диффузор</span></div>
<div class="t" style="left:274.0px;top:1069.4px;width:143.0px;height:53.4px;padding-left:8px;justify-content:flex-start;text-align:left;font-size:21px;line-height:23px"><span>Нержавеющая<br>сталь</span></div>
<div class="t n" style="left:415.5px;top:1068.9px;width:104.3px;height:53.4px;justify-content:center;text-align:center;font-size:19px;line-height:22px"><span>AISI304</span></div>
<div class="t n" style="left:31.6px;top:1122.8px;width:53.5px;height:53.4px;justify-content:center;text-align:center;font-size:18px;line-height:22px"><span>8</span></div>
<div class="t" style="left:85.1px;top:1122.8px;width:188.9px;height:53.4px;padding-left:10px;justify-content:flex-start;text-align:left;font-size:21px;line-height:23px"><span>Опора</span></div>
<div class="t" style="left:274.0px;top:1122.8px;width:143.0px;height:53.4px;padding-left:8px;justify-content:flex-start;text-align:left;font-size:21px;line-height:23px"><span>Нержавеющая<br>сталь</span></div>
<div class="t n" style="left:415.5px;top:1122.3px;width:104.3px;height:53.4px;justify-content:center;text-align:center;font-size:19px;line-height:22px"><span>AISI304</span></div>
<div class="t n" style="left:31.6px;top:1176.3px;width:53.5px;height:53.4px;justify-content:center;text-align:center;font-size:18px;line-height:22px"><span>11</span></div>
<div class="t" style="left:85.1px;top:1176.3px;width:188.9px;height:53.4px;padding-left:10px;justify-content:flex-start;text-align:left;font-size:21px;line-height:23px"><span>Подшипник</span></div>
<div class="t" style="left:274.0px;top:1176.3px;width:143.0px;height:53.4px;padding-left:8px;justify-content:flex-start;text-align:left;font-size:21px;line-height:23px"><span>Карбид<br>вольфрама</span></div>
<div class="t n" style="left:31.6px;top:1229.7px;width:53.5px;height:53.4px;justify-content:center;text-align:center;font-size:18px;line-height:22px"><span>12</span></div>
<div class="t" style="left:85.1px;top:1229.7px;width:188.9px;height:53.4px;padding-left:10px;justify-content:flex-start;text-align:left;font-size:21px;line-height:23px"><span>Колесо рабочее</span></div>
<div class="t" style="left:274.0px;top:1229.7px;width:143.0px;height:53.4px;padding-left:8px;justify-content:flex-start;text-align:left;font-size:21px;line-height:23px"><span>Нержавеющая<br>сталь</span></div>
<div class="t n" style="left:415.5px;top:1229.2px;width:104.3px;height:53.4px;justify-content:center;text-align:center;font-size:19px;line-height:22px"><span>AISI304</span></div>
<div class="t n" style="left:31.6px;top:1283.2px;width:53.5px;height:53.4px;justify-content:center;text-align:center;font-size:18px;line-height:22px"><span>13</span></div>
<div class="t" style="left:85.1px;top:1283.2px;width:188.9px;height:53.4px;padding-left:10px;justify-content:flex-start;text-align:left;font-size:21px;line-height:23px"><span>Вал</span></div>
<div class="t" style="left:274.0px;top:1283.2px;width:143.0px;height:53.4px;padding-left:8px;justify-content:flex-start;text-align:left;font-size:21px;line-height:23px"><span>Нержавеющая<br>сталь</span></div>
<div class="t n" style="left:415.5px;top:1282.7px;width:104.3px;height:53.4px;justify-content:center;text-align:center;font-size:19px;line-height:22px"><span>AISI304<br>AISI316L</span></div>
<div class="abs" style="left:31.6px;top:854.75px;width:489.69999999999993px;height:1.5px;background:#58b9da"></div>
<div class="abs" style="left:31.6px;top:908.75px;width:489.69999999999993px;height:1.5px;background:#58b9da"></div>
<div class="abs" style="left:31.6px;top:961.75px;width:489.69999999999993px;height:1.5px;background:#58b9da"></div>
<div class="abs" style="left:31.6px;top:1014.75px;width:489.69999999999993px;height:1.5px;background:#58b9da"></div>
<div class="abs" style="left:31.6px;top:1068.75px;width:489.69999999999993px;height:1.5px;background:#58b9da"></div>
<div class="abs" style="left:31.6px;top:1121.75px;width:489.69999999999993px;height:1.5px;background:#58b9da"></div>
<div class="abs" style="left:31.6px;top:1175.75px;width:489.69999999999993px;height:1.5px;background:#58b9da"></div>
<div class="abs" style="left:31.6px;top:1228.75px;width:489.69999999999993px;height:1.5px;background:#58b9da"></div>
<div class="abs" style="left:31.6px;top:1282.75px;width:489.69999999999993px;height:1.5px;background:#58b9da"></div>
<div class="abs" style="left:84.75px;top:745.8px;width:1.5px;height:590.8px;background:#58b9da"></div>
<div class="abs" style="left:273.75px;top:745.8px;width:1.5px;height:590.8px;background:#58b9da"></div>
<div class="abs" style="left:415.75px;top:745.8px;width:1.5px;height:590.8px;background:#58b9da"></div>
<div class="abs" style="left:31.6px;top:801.5px;width:489.69999999999993px;height:1.4px;background:#4a9db8"></div>
<div class="abs" style="left:30.9px;top:745.1px;width:491.1px;height:592.2px;border:1.4px solid #4a9db8;box-sizing:border-box"></div>
<div class="abs" style="left:545.5px;top:745.8px;width:489.4000000000001px;height:56.40000000000009px;background:#a9ddf7"></div>
<div class="t h" style="left:549.0px;top:745.0px;width:53.2px;height:56.4px;justify-content:center;text-align:center;font-size:21px;line-height:22px"><span>No.</span></div>
<div class="t h" style="left:598.7px;top:745.0px;width:189.9px;height:56.4px;justify-content:center;text-align:center;font-size:21px;line-height:22px"><span>Наименование</span></div>
<div class="t h" style="left:788.6px;top:745.0px;width:142.3px;height:56.4px;justify-content:center;text-align:center;font-size:21px;line-height:22px"><span>Материал</span></div>
<div class="t h" style="left:931.9px;top:745.0px;width:104.0px;height:56.4px;justify-content:center;text-align:center;font-size:21px;line-height:22px"><span><span style="letter-spacing:-1px">AISI/ASTM</span></span></div>
<div class="t n" style="left:545.5px;top:802.2px;width:53.2px;height:59.4px;justify-content:center;text-align:center;font-size:18px;line-height:22px"><span>14</span></div>
<div class="t" style="left:598.7px;top:802.2px;width:189.9px;height:59.4px;padding-left:12px;justify-content:flex-start;text-align:left;font-size:21px;line-height:23px"><span>Втулка колеса<br>рабочего</span></div>
<div class="t" style="left:788.6px;top:802.2px;width:142.3px;height:59.4px;padding-left:8px;justify-content:flex-start;text-align:left;font-size:21px;line-height:23px"><span>Нержавеющая<br>сталь</span></div>
<div class="t n" style="left:929.4px;top:801.7px;width:104.0px;height:59.4px;justify-content:center;text-align:center;font-size:19px;line-height:22px"><span>AISI304</span></div>
<div class="t n" style="left:545.5px;top:861.6px;width:53.2px;height:59.4px;justify-content:center;text-align:center;font-size:18px;line-height:22px"><span>15</span></div>
<div class="t" style="left:598.7px;top:861.6px;width:189.9px;height:59.4px;padding-left:12px;justify-content:flex-start;text-align:left;font-size:21px;line-height:23px"><span>Цилиндр</span></div>
<div class="t" style="left:788.6px;top:861.6px;width:142.3px;height:59.4px;padding-left:8px;justify-content:flex-start;text-align:left;font-size:21px;line-height:23px"><span>Нержавеющая<br>сталь</span></div>
<div class="t n" style="left:929.4px;top:861.1px;width:104.0px;height:59.4px;justify-content:center;text-align:center;font-size:19px;line-height:22px"><span>AISI304</span></div>
<div class="t n" style="left:545.5px;top:921.0px;width:53.2px;height:59.4px;justify-content:center;text-align:center;font-size:18px;line-height:22px"><span>16</span></div>
<div class="t" style="left:598.7px;top:921.0px;width:189.9px;height:59.4px;padding-left:12px;justify-content:flex-start;text-align:left;font-size:21px;line-height:23px"><span>Муфта</span></div>
<div class="t" style="left:788.6px;top:921.0px;width:142.3px;height:59.4px;padding-left:8px;justify-content:flex-start;text-align:left;font-size:21px;line-height:23px"><span>Углеродистая<br>сталь</span></div>
<div class="t n" style="left:550.0px;top:981.3px;width:489.4px;height:59.4px;justify-content:center;text-align:center;font-size:18px;line-height:22px"><span><span style="letter-spacing:1.1px">CDLF</span></span></div>
<div class="t n" style="left:545.5px;top:1039.7px;width:53.2px;height:59.4px;justify-content:center;text-align:center;font-size:18px;line-height:22px"><span>3</span></div>
<div class="t" style="left:598.7px;top:1039.7px;width:189.9px;height:59.4px;padding-left:12px;justify-content:flex-start;text-align:left;font-size:21px;line-height:23px"><span>Крышка</span></div>
<div class="t" style="left:788.6px;top:1039.7px;width:142.3px;height:59.4px;padding-left:8px;justify-content:flex-start;text-align:left;font-size:21px;line-height:23px"><span>Нержавеющая<br>сталь</span></div>
<div class="t n" style="left:929.4px;top:1039.2px;width:104.0px;height:59.4px;justify-content:center;text-align:center;font-size:19px;line-height:22px"><span>AISI304</span></div>
<div class="t n" style="left:545.5px;top:1099.1px;width:53.2px;height:59.4px;justify-content:center;text-align:center;font-size:18px;line-height:22px"><span>9</span></div>
<div class="t" style="left:598.7px;top:1099.1px;width:189.9px;height:59.4px;padding-left:12px;justify-content:flex-start;text-align:left;font-size:21px;line-height:23px"><span>Основание</span></div>
<div class="t" style="left:788.6px;top:1099.1px;width:142.3px;height:59.4px;padding-left:8px;justify-content:flex-start;text-align:left;font-size:21px;line-height:23px"><span>Нержавеющая<br>сталь</span></div>
<div class="t n" style="left:929.4px;top:1098.6px;width:104.0px;height:59.4px;justify-content:center;text-align:center;font-size:19px;line-height:22px"><span>AISI304</span></div>
<div class="t n" style="left:545.5px;top:1158.5px;width:53.2px;height:59.4px;justify-content:center;text-align:center;font-size:18px;line-height:22px"><span>10</span></div>
<div class="t" style="left:598.7px;top:1158.5px;width:189.9px;height:59.4px;padding-left:12px;justify-content:flex-start;text-align:left;font-size:21px;line-height:23px"><span>Плита</span></div>
<div class="t" style="left:788.6px;top:1158.5px;width:142.3px;height:59.4px;padding-left:8px;justify-content:flex-start;text-align:left;font-size:21px;line-height:23px"><span>Чугун</span></div>
<div class="t n" style="left:929.4px;top:1158.0px;width:104.0px;height:59.4px;justify-content:center;text-align:center;font-size:19px;line-height:22px"><span>ASTM25B</span></div>
<div class="t n" style="left:550.0px;top:1218.8px;width:489.4px;height:59.4px;justify-content:center;text-align:center;font-size:18px;line-height:22px"><span><span style="letter-spacing:1.1px">CDL</span></span></div>
<div class="t n" style="left:545.5px;top:1277.2px;width:53.2px;height:59.4px;justify-content:center;text-align:center;font-size:18px;line-height:22px"><span>9</span></div>
<div class="t" style="left:598.7px;top:1277.2px;width:189.9px;height:59.4px;padding-left:12px;justify-content:flex-start;text-align:left;font-size:21px;line-height:23px"><span>Основание</span></div>
<div class="t" style="left:788.6px;top:1277.2px;width:142.3px;height:59.4px;padding-left:8px;justify-content:flex-start;text-align:left;font-size:21px;line-height:23px"><span>Чугун</span></div>
<div class="t n" style="left:929.4px;top:1276.7px;width:104.0px;height:59.4px;justify-content:center;text-align:center;font-size:19px;line-height:22px"><span>ASTM25B</span></div>
<div class="abs" style="left:545.5px;top:860.75px;width:489.4000000000001px;height:1.5px;background:#58b9da"></div>
<div class="abs" style="left:545.5px;top:919.75px;width:489.4000000000001px;height:1.5px;background:#58b9da"></div>
<div class="abs" style="left:545.5px;top:979.75px;width:489.4000000000001px;height:1.5px;background:#58b9da"></div>
<div class="abs" style="left:545.5px;top:1038.75px;width:489.4000000000001px;height:1.5px;background:#58b9da"></div>
<div class="abs" style="left:545.5px;top:1098.75px;width:489.4000000000001px;height:1.5px;background:#58b9da"></div>
<div class="abs" style="left:545.5px;top:1157.75px;width:489.4000000000001px;height:1.5px;background:#58b9da"></div>
<div class="abs" style="left:545.5px;top:1216.75px;width:489.4000000000001px;height:1.5px;background:#58b9da"></div>
<div class="abs" style="left:545.5px;top:1276.75px;width:489.4000000000001px;height:1.5px;background:#58b9da"></div>
<div class="abs" style="left:597.75px;top:745.8px;width:1.5px;height:234.5px;background:#58b9da"></div>
<div class="abs" style="left:597.75px;top:1039.7px;width:1.5px;height:178.1px;background:#58b9da"></div>
<div class="abs" style="left:597.75px;top:1277.2px;width:1.5px;height:59.4px;background:#58b9da"></div>
<div class="abs" style="left:787.75px;top:745.8px;width:1.5px;height:234.5px;background:#58b9da"></div>
<div class="abs" style="left:787.75px;top:1039.7px;width:1.5px;height:178.1px;background:#58b9da"></div>
<div class="abs" style="left:787.75px;top:1277.2px;width:1.5px;height:59.4px;background:#58b9da"></div>
<div class="abs" style="left:929.75px;top:745.8px;width:1.5px;height:234.5px;background:#58b9da"></div>
<div class="abs" style="left:929.75px;top:1039.7px;width:1.5px;height:178.1px;background:#58b9da"></div>
<div class="abs" style="left:929.75px;top:1277.2px;width:1.5px;height:59.4px;background:#58b9da"></div>
<div class="abs" style="left:545.5px;top:801.5px;width:489.4000000000001px;height:1.4px;background:#4a9db8"></div>
<div class="abs" style="left:544.8px;top:745.1px;width:490.8px;height:592.2px;border:1.4px solid #4a9db8;box-sizing:border-box"></div>
</div></body></html>
